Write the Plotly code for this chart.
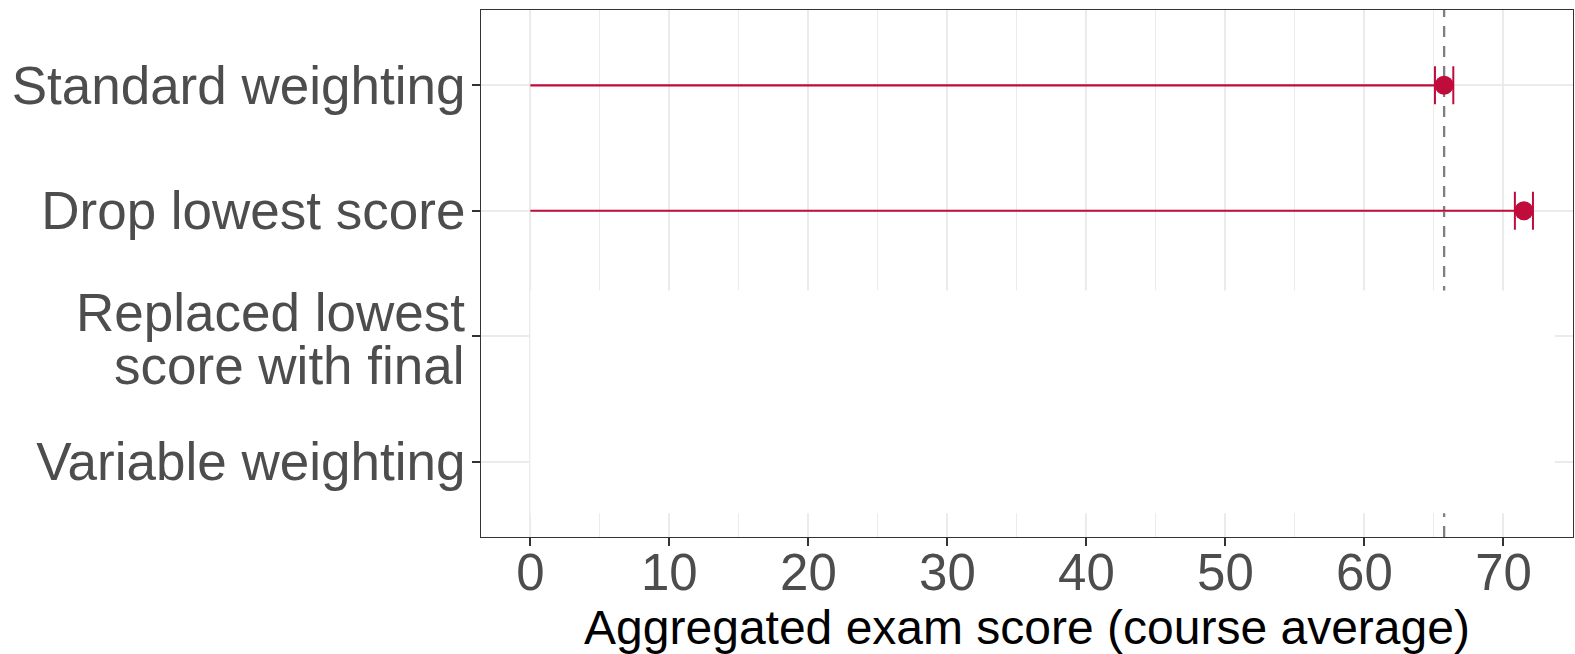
import plotly.graph_objects as go

# ---- data ----
categories = ["Standard weighting", "Drop lowest score",
              "Replaced lowest score with final", "Variable weighting"]
cat_pos = [1, 2, 3, 4]
means = [65.73, 71.47]          # only the first two categories have values
ci_half = [0.66, 0.65]
reference_value = 65.73         # dashed reference line
mask_x = [0, 73.7]              # white mask box
mask_y = [2.635, 4.41]
x_ticks = [0, 10, 20, 30, 40, 50, 60, 70]
x_title = "Aggregated exam score (course average)"

RED = "#BF0C3A"
FONT = "Liberation Sans, Arial, sans-serif"

fig = go.Figure()

# stems from 0 to the mean
seg_x, seg_y = [], []
for m, p in zip(means, cat_pos):
    seg_x += [0, m, None]
    seg_y += [p, p, None]
fig.add_trace(go.Scatter(x=seg_x, y=seg_y, mode="lines",
                         line=dict(color=RED, width=2.2), hoverinfo="skip",
                         showlegend=False))

# points with error bars
fig.add_trace(go.Scatter(
    x=means, y=cat_pos[:len(means)], mode="markers",
    marker=dict(color=RED, size=19, line=dict(width=0)),
    error_x=dict(type="data", array=ci_half, color=RED, thickness=2, width=19),
    showlegend=False))

shapes = [
    dict(type="line", xref="x", yref="paper", x0=reference_value, x1=reference_value,
         y0=0, y1=1, layer="between",
         line=dict(color="#7F7F7F", width=2.3, dash="11px,9px")),
    dict(type="rect", xref="x", yref="y", x0=mask_x[0], x1=mask_x[1],
         y0=mask_y[0], y1=mask_y[1], layer="between",
         fillcolor="white", line=dict(width=0)),
]

ticktext = [c if len(c) < 25 else "" for c in categories]

annotations = []
words = categories[2].split(" ")
line1 = " ".join(words[:2])
line2 = " ".join(words[2:])
for txt, ys in [(line1, 24), (line2, -29)]:
    annotations.append(dict(text=txt, xref="paper", yref="y", x=0, y=cat_pos[2],
                            xanchor="right", yanchor="middle", showarrow=False,
                            xshift=-14, yshift=ys,
                            font=dict(family=FONT, size=53, color="#4D4D4D")))

fig.update_layout(
    width=1575, height=654,
    margin=dict(l=481, r=2, t=10, b=117, autoexpand=False),
    paper_bgcolor="white", plot_bgcolor="white",
    shapes=shapes, annotations=annotations,
    font=dict(family=FONT),
)

fig.update_xaxes(
    automargin=False,
    range=[-3.55, 75.0], tickvals=x_ticks, ticktext=[str(v) for v in x_ticks],
    showgrid=True, gridcolor="#EBEBEB", gridwidth=2,
    minor=dict(dtick=5, tick0=0, showgrid=True, gridcolor="#EBEBEB", gridwidth=1, ticks=""),
    ticks="outside", ticklen=8, tickwidth=2, tickcolor="#333333",
    ticklabelstandoff=-17,
    tickfont=dict(family=FONT, size=51, color="#4D4D4D"),
    showline=True, linecolor="#333333", linewidth=1, mirror=True,
    zeroline=False,
    title=dict(text=x_title, font=dict(family=FONT, size=48, color="black"), standoff=19),
)
fig.update_yaxes(
    automargin=False,
    range=[4.6, 0.4], tickvals=cat_pos, ticktext=ticktext,
    showgrid=True, gridcolor="#EBEBEB", gridwidth=2,
    ticks="outside", ticklen=8, tickwidth=2, tickcolor="#333333",
    ticklabelstandoff=-4,
    tickfont=dict(family=FONT, size=53, color="#4D4D4D"),
    showline=True, linecolor="#333333", linewidth=1, mirror=True,
    zeroline=False,
)

fig.write_html("out.html", config={"displayModeBar": False},
               post_script="document.body.style.margin='0';")
